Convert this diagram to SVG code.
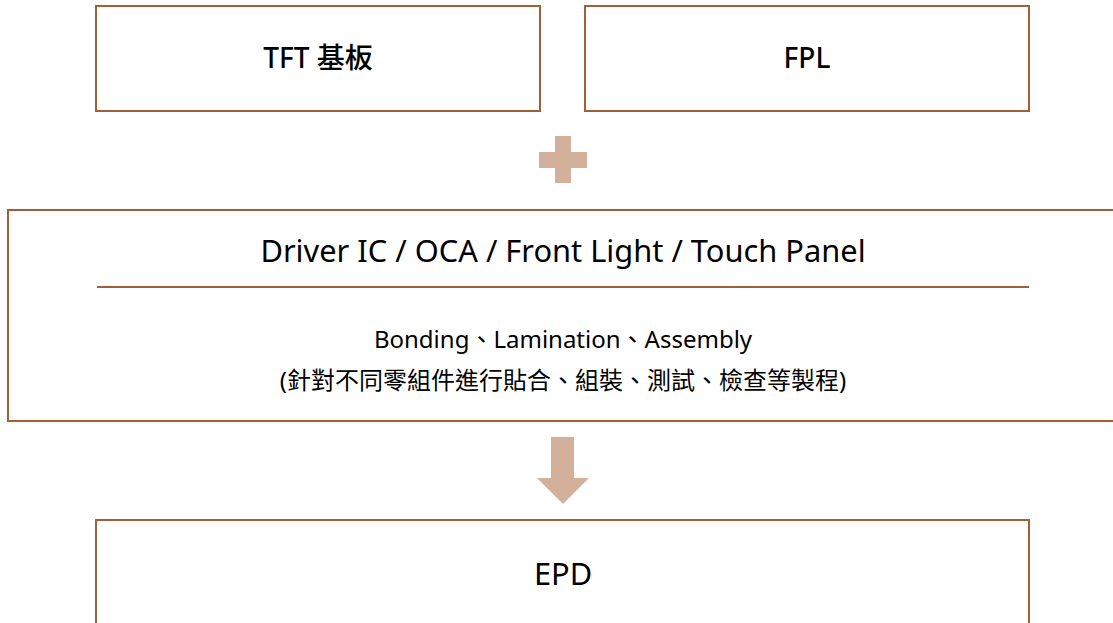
<svg xmlns="http://www.w3.org/2000/svg" width="1113" height="623" viewBox="0 0 1113 623">
<style>
.box{fill:#fff;stroke:#A35F35;stroke-width:2}
.sym{fill:#D2B09A}
text{font-family:"Noto Sans","Noto Sans CJK TC",sans-serif;fill:#000;text-anchor:middle}
.t{font-size:28px;font-weight:500}
.h{font-size:30.8px}
.s{font-size:24px}
</style>
<rect width="1113" height="623" fill="#fff"/>
<g id="tft">
<rect class="box" x="96" y="6" width="444" height="105"/>
<text class="t" x="318" y="68">TFT 基板</text>
</g>
<g id="fpl">
<rect class="box" x="585" y="6" width="444" height="105"/>
<text class="t" x="807" y="68">FPL</text>
</g>
<g id="connectors">
<path class="sym" d="M555 136h16v16h16v16h-16v15h-16v-15h-16v-16h16z"/>
<path class="sym" d="M551 437h23v41h15l-26 26l-26-26h14z"/>
</g>
<g id="process">
<rect class="box" x="8" y="210" width="1120" height="211"/>
<text class="h" x="563" y="262">Driver IC / OCA / Front Light / Touch Panel</text>
<line x1="97" y1="287" x2="1029" y2="287" stroke="#A35F35" stroke-width="2"/>
<text class="s" x="563" y="348">Bonding、Lamination、Assembly</text>
<text class="s" x="563" y="389">(針對不同零組件進行貼合、組裝、測試、檢查等製程)</text>
</g>
<g id="epd">
<rect class="box" x="96" y="520" width="933" height="120"/>
<text class="h" x="563" y="585">EPD</text>
</g>
</svg>
